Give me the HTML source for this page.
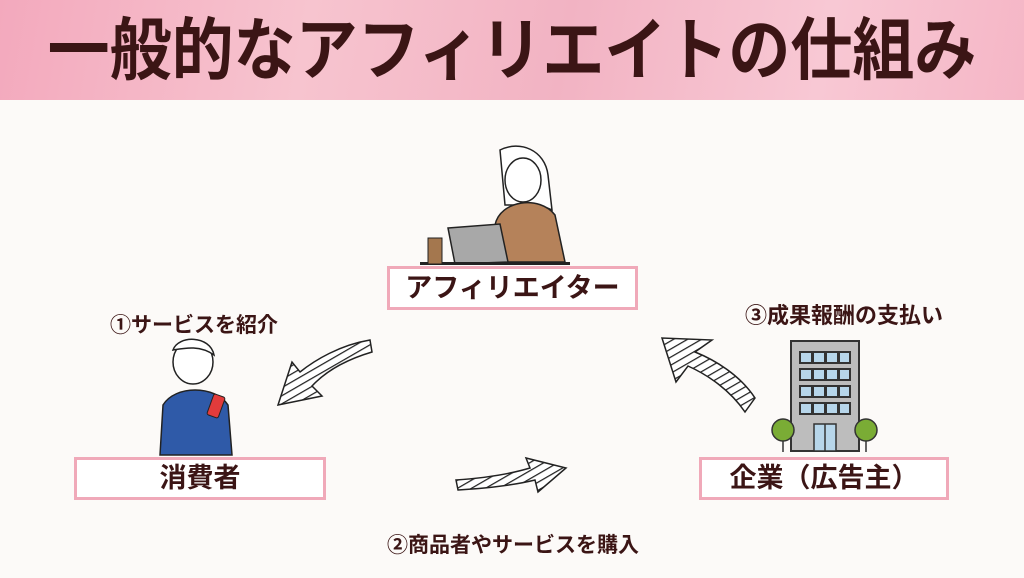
<!DOCTYPE html>
<html><head><meta charset="utf-8"><style>
body{margin:0;width:1024px;height:578px;overflow:hidden;background:#fcfaf8;font-family:"Liberation Sans","Noto Sans CJK JP",sans-serif;position:relative}
.hd{position:absolute;left:0;top:0;width:1024px;height:100px;background:linear-gradient(100deg,#f3a9bd 0%,#f7c4cf 30%,#f2b3c3 55%,#f8c8d4 80%,#f5b6c6 100%)}
.title{position:absolute;left:0;width:1024px;top:4px;text-align:center;font-size:62px;font-weight:bold;color:#3b1515;line-height:96px;white-space:nowrap;transform:scaleY(1.1)}
.box{position:absolute;border:3px solid #f0a9b9;background:#fff;box-sizing:border-box;text-align:center;font-weight:bold;color:#3b1515;font-size:27px}
.lb{position:absolute;font-weight:bold;color:#3b1515;white-space:nowrap}
svg{position:absolute;left:0;top:0}
</style></head><body>
<div class="hd"></div>
<div class="title">一般的なアフィリエイトの仕組み</div>
<svg width="1024" height="578">
<defs><pattern id="h" width="7" height="7" patternUnits="userSpaceOnUse" patternTransform="rotate(60)"><rect width="7" height="7" fill="#fff"/><line x1="0" y1="0" x2="0" y2="7" stroke="#222" stroke-width="2.5"/></pattern></defs>
<path d="M370 340 C340 345 315 360 300 372 L292 362 L278 405 L322 396 L312 386 C325 372 345 360 372 352 Z" fill="url(#h)" stroke="#222" stroke-width="1.5"/>
<path d="M458 490 C490 488 515 485 535 480 L538 492 L566 468 L526 458 L530 468 C510 474 485 478 456 480 Z" fill="url(#h)" stroke="#222" stroke-width="1.5"/>
<path d="M755 398 C740 375 715 360 695 352 L712 340 L662 338 L676 382 L688 366 C708 375 730 390 745 412 Z" fill="url(#h)" stroke="#222" stroke-width="1.5"/>
<path d="M500 150 C520 140 545 150 548 175 L552 210 L540 205 L505 205 Z" fill="#fff" stroke="#222" stroke-width="1.5"/>
<path d="M495 225 C500 200 540 195 555 215 L565 262 L490 262 Z" fill="#b5825a" stroke="#222" stroke-width="1.5"/>
<ellipse cx="523" cy="180" rx="18" ry="22" fill="#fff" stroke="#222" stroke-width="1.5"/>
<path d="M448 228 L500 224 L508 262 L455 264 Z" fill="#a8a8a8" stroke="#222" stroke-width="1.5"/>
<rect x="420" y="262" width="150" height="3" fill="#222"/>
<rect x="428" y="238" width="14" height="26" fill="#a4774e" stroke="#222"/>
<ellipse cx="193" cy="362" rx="20" ry="22" fill="#fff" stroke="#222" stroke-width="1.5"/>
<path d="M173 350 C178 335 210 335 214 355 C200 345 185 348 173 350 Z" fill="#fff" stroke="#222" stroke-width="1.5"/>
<path d="M160 455 L163 405 C175 385 215 385 228 405 L232 455 Z" fill="#2f5aa8" stroke="#222" stroke-width="1.5"/>
<rect x="210" y="395" width="12" height="22" rx="2" fill="#e23b3b" stroke="#222" transform="rotate(20 216 406)"/>
<rect x="791" y="341" width="68" height="110" fill="#bdbdbd" stroke="#333" stroke-width="2"/>
<g fill="#333">
<rect x="799" y="351" width="52" height="13"/><rect x="799" y="368" width="52" height="13"/><rect x="799" y="385" width="52" height="13"/><rect x="799" y="402" width="52" height="13"/></g>
<g fill="#b7d6ea">
<rect x="801" y="353" width="10" height="9"/><rect x="814" y="353" width="10" height="9"/><rect x="827" y="353" width="10" height="9"/><rect x="840" y="353" width="9" height="9"/>
<rect x="801" y="370" width="10" height="9"/><rect x="814" y="370" width="10" height="9"/><rect x="827" y="370" width="10" height="9"/><rect x="840" y="370" width="9" height="9"/>
<rect x="801" y="387" width="10" height="9"/><rect x="814" y="387" width="10" height="9"/><rect x="827" y="387" width="10" height="9"/><rect x="840" y="387" width="9" height="9"/>
<rect x="801" y="404" width="10" height="9"/><rect x="814" y="404" width="10" height="9"/><rect x="827" y="404" width="10" height="9"/><rect x="840" y="404" width="9" height="9"/>
</g>
<rect x="814" y="424" width="22" height="27" fill="#b7d6ea" stroke="#333" stroke-width="1.5"/>
<g stroke="#333" stroke-width="1.5"><line x1="825" y1="424" x2="825" y2="451"/>
<line x1="783" y1="430" x2="783" y2="452"/><line x1="866" y1="430" x2="866" y2="452"/></g>
<circle cx="783" cy="430" r="11" fill="#7aac35" stroke="#333" stroke-width="1.5"/>
<circle cx="866" cy="430" r="11" fill="#7aac35" stroke="#333" stroke-width="1.5"/>
</svg>
<div class="box" style="left:387px;top:266px;width:251px;height:44px;line-height:38px">アフィリエイター</div>
<div class="box" style="left:74px;top:457px;width:252px;height:43px;line-height:37px">消費者</div>
<div class="box" style="left:699px;top:457px;width:250px;height:43px;line-height:37px">企業（広告主）</div>
<div class="lb" style="left:110px;top:309px;font-size:21px">①サービスを紹介</div>
<div class="lb" style="left:745px;top:298px;font-size:22px">③成果報酬の支払い</div>
<div class="lb" style="left:387px;top:529px;font-size:21px">②商品者やサービスを購入</div>
</body></html>
